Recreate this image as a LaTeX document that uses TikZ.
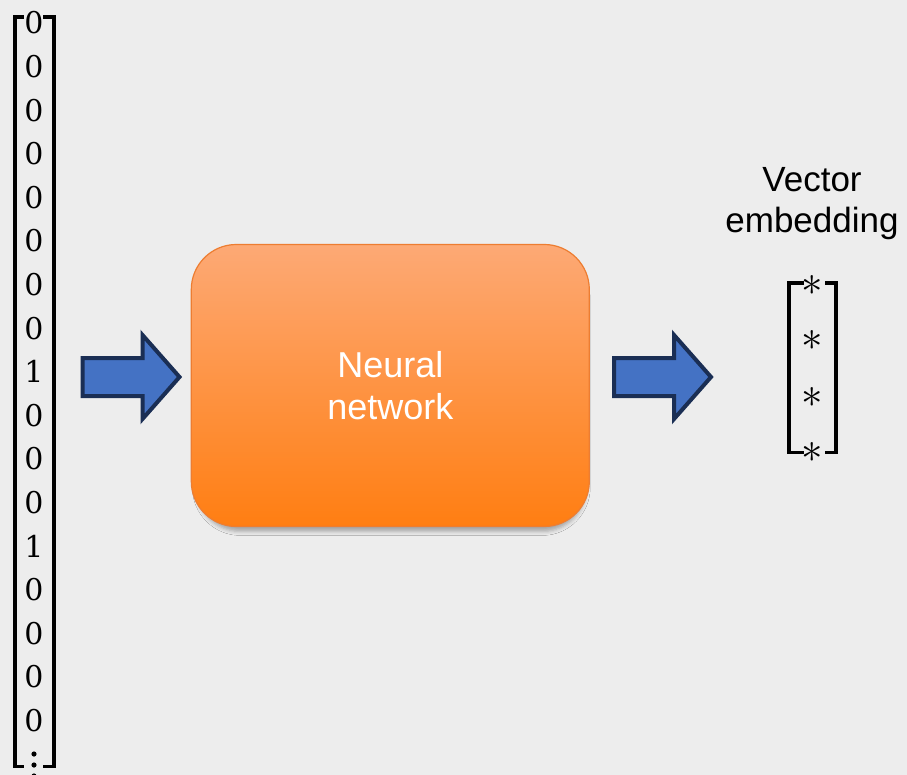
\documentclass[tikz,border=0pt]{standalone}
\usepackage{fontspec}
\usepackage{graphicx}
\newfontfamily\labelfont{Liberation Sans}
\newfontfamily\digitfont{DejaVu Serif}
\usetikzlibrary{shadows.blur}

\definecolor{canvas}{RGB}{237,237,237}
\definecolor{arrowfill}{RGB}{68,114,196}
\definecolor{arrowline}{RGB}{26,46,84}
\definecolor{boxtop}{RGB}{253,169,117}
\definecolor{boxbottom}{RGB}{255,126,18}
\definecolor{boxline}{RGB}{237,125,49}

\tikzset{
  digit/.style={inner sep=0pt, font=\digitfont\fontsize{30}{36}\selectfont},
  starentry/.style={inner sep=0pt},
  bracketline/.style={line width=3.8pt, line join=miter, line cap=rect},
  caption/.style={inner sep=0pt, text=black, align=center, anchor=north,
    font=\labelfont\fontsize{35}{41}\selectfont},
  netbox/.style={rectangle, rounded corners=45pt, draw=boxline, line width=1.2pt,
    top color=boxtop, bottom color=boxbottom,
    minimum width=398pt, minimum height=282pt, inner sep=0pt,
    text=white, align=center, font=\labelfont\fontsize{36}{42}\selectfont,
    blur shadow={shadow xshift=1pt, shadow yshift=-8pt, shadow scale=0.98,
      shadow blur radius=4pt, shadow opacity=30}},
  blockarrow/.pic={
    \draw[fill=arrowfill, draw=arrowline, line width=4pt, line join=miter]
      (0,-19) -- (60,-19) -- (60,-42) -- (97,0) -- (60,42) -- (60,19)
      -- (0,19) -- cycle;
  }
}

\begin{document}
\begin{tikzpicture}[x=1pt, y=-1pt]
  \fill[canvas] (0,0) rectangle (907,775);
  \useasboundingbox (0,0) rectangle (907,775);

  % one-hot input column
  \foreach \v [count=\i from 0] in {0,0,0,0,0,0,0,0,1,0,0,0,1,0,0,0,0}
    \node[digit] (d\i) at (34, {23+43.6*\i}) {\v};
  \foreach \k in {0,1,2}
    \fill (34, {754+11*\k}) circle (2.6pt);
  \draw[bracketline] (22,16.8) -- (14.7,16.8) -- (14.7,766.5) -- (22,766.5);
  \draw[bracketline] (45,16.8) -- (53.8,16.8) -- (53.8,766.5) -- (45,766.5);

  % arrows and network block
  \pic (inarrow) at (82.5,377) {blockarrow};
  \node[netbox] (nn) at (390.3,385.5) {Neural\\network};
  \pic (outarrow) at (614,377) {blockarrow};

  % output embedding
  \node[caption] (cap) at (812,167) {Vector\\embedding};
  \foreach \y [count=\j] in {285,340,397,452}
    \node[starentry] (s\j) at (812,\y) {\scalebox{4.3}{$\ast$}};
  \draw[bracketline] (802,283) -- (789,283) -- (789,452.5) -- (802,452.5);
  \draw[bracketline] (827,283) -- (836,283) -- (836,452.5) -- (827,452.5);
\end{tikzpicture}
\end{document}
